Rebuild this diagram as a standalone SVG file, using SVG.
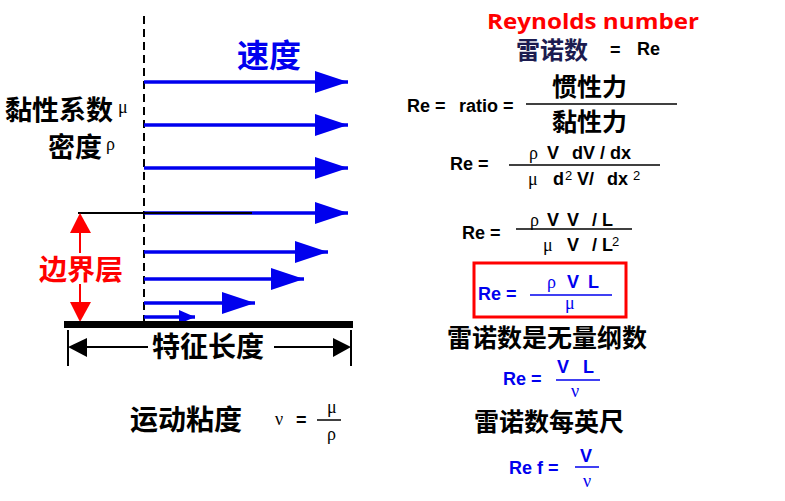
<svg xmlns="http://www.w3.org/2000/svg" width="785" height="501" viewBox="0 0 785 501">
<style>
.cjk{font-family:"Noto Sans CJK SC","Noto Sans",sans-serif;font-weight:bold}
.lat{font-family:"Liberation Sans",Arial,sans-serif;font-weight:bold;font-size:18px}
.sup{font-family:"Liberation Sans",Arial,sans-serif;font-size:13px}
.grk{font-family:"Liberation Serif","DejaVu Serif",serif;font-size:18px}
.blk{fill:#000}
.blu{fill:#0000ee}
.red{fill:#ff0000}
.fl{stroke:#000;stroke-width:1.5}
.flb{stroke:#0000ee;stroke-width:1.5}
.va{stroke:#0000ee;stroke-width:3.5;fill:none}
</style>
<defs>
<marker id="ah" markerUnits="userSpaceOnUse" markerWidth="33" markerHeight="22" refX="33" refY="11" orient="auto">
<path d="M0,0 L33,11 L0,22 z" fill="#0000ee"/>
</marker>
<marker id="ahs" markerUnits="userSpaceOnUse" markerWidth="16" markerHeight="14" refX="16" refY="7" orient="auto">
<path d="M0,0 L16,7 L0,14 z" fill="#0000ee"/>
</marker>
</defs>
<rect width="785" height="501" fill="#fff"/>

<g id="velocity-profile">
<line x1="144" y1="16" x2="144" y2="322" stroke="#000" stroke-width="2" stroke-dasharray="8,5"/>
<line class="va" x1="144" y1="82" x2="348" y2="82" marker-end="url(#ah)"/>
<line class="va" x1="144" y1="125" x2="348" y2="125" marker-end="url(#ah)"/>
<line class="va" x1="144" y1="168" x2="348" y2="168" marker-end="url(#ah)"/>
<line class="va" x1="144" y1="213" x2="348" y2="213" marker-end="url(#ah)"/>
<line class="va" x1="144" y1="252" x2="328" y2="252" marker-end="url(#ah)"/>
<line class="va" x1="144" y1="279" x2="304" y2="279" marker-end="url(#ah)"/>
<line class="va" x1="144" y1="303" x2="255" y2="303" marker-end="url(#ah)"/>
<line class="va" x1="144" y1="317" x2="195" y2="317" marker-end="url(#ahs)" stroke-width="3"/>
<line x1="78" y1="213" x2="252" y2="213" stroke="#000" stroke-width="2"/>
<text class="cjk blu" x="237" y="67" font-size="32">速度</text>
</g>

<g id="properties">
<text class="cjk blk" x="5" y="120" font-size="27">黏性系数</text>
<text class="grk blk" x="118" y="113" font-size="14">μ</text>
<text class="cjk blk" x="48" y="157" font-size="27">密度</text>
<text class="grk blk" x="106" y="150" font-size="15">ρ</text>
</g>

<g id="boundary-layer">
<line x1="80" y1="230" x2="80" y2="253" stroke="#ff0000" stroke-width="2"/>
<line x1="80" y1="284" x2="80" y2="305" stroke="#ff0000" stroke-width="2"/>
<polygon points="80,213 70,233 91,233" fill="#ff0000"/>
<polygon points="80,322 70,302 91,302" fill="#ff0000"/>
<text class="cjk red" x="39" y="280" font-size="28">边界层</text>
</g>

<g id="plate">
<rect x="64" y="321" width="289" height="7" fill="#000"/>
</g>

<g id="char-length">
<line x1="68" y1="330" x2="68" y2="366" stroke="#000" stroke-width="2"/>
<line x1="351" y1="330" x2="351" y2="366" stroke="#000" stroke-width="2"/>
<polygon points="68,347 87,338 87,357" fill="#000"/>
<polygon points="351,347 333,338 333,357" fill="#000"/>
<line x1="87" y1="347" x2="148" y2="347" stroke="#000" stroke-width="2"/>
<line x1="274" y1="347" x2="333" y2="347" stroke="#000" stroke-width="2"/>
<text class="cjk blk" x="152" y="357" font-size="28">特征长度</text>
</g>

<g id="kinematic-viscosity">
<text class="cjk blk" x="130" y="430" font-size="28">运动粘度</text>
<text class="grk blk" x="275" y="425">ν</text>
<text class="lat blk" x="296" y="426" font-weight="normal" font-size="16">=</text>
<line class="fl" x1="317" y1="420" x2="341" y2="420"/>
<text class="grk blk" x="327" y="413" font-size="16">μ</text>
<text class="grk blk" x="327" y="440" font-size="16">ρ</text>
</g>

<g id="title">
<text x="487" y="29" font-family="'Open Sans','Liberation Sans',sans-serif" font-weight="bold" font-size="22" fill="#ff0000" textLength="212" lengthAdjust="spacingAndGlyphs">Reynolds number</text>
<text class="cjk" x="516" y="59" font-size="24" fill="#1c1c50">雷诺数</text>
<text class="lat blk" x="610" y="56" font-size="16">=</text>
<text class="lat blk" x="637" y="55" font-size="15">Re</text>
</g>

<g id="eq-ratio">
<text class="lat blk" x="407" y="112">Re =</text>
<text class="lat blk" x="459" y="112">ratio =</text>
<line class="fl" x1="526" y1="104" x2="677" y2="104"/>
<text class="cjk blk" x="552" y="96" font-size="25">惯性力</text>
<text class="cjk blk" x="552" y="131" font-size="25">黏性力</text>
</g>

<g id="eq-deriv">
<text class="lat blk" x="450" y="169.5">Re =</text>
<line class="fl" x1="509" y1="165" x2="660" y2="165"/>
<text class="grk blk" x="529" y="159">ρ</text>
<text class="lat blk" x="547" y="159">V</text>
<text class="lat blk" x="572" y="159">dV / dx</text>
<text class="grk blk" x="528" y="185">μ</text>
<text class="lat blk" x="553" y="185">d</text>
<text class="sup blk" x="565" y="180">2</text>
<text class="lat blk" x="577" y="185">V/</text>
<text class="lat blk" x="607" y="185">dx</text>
<text class="sup blk" x="633" y="180">2</text>
</g>

<g id="eq-scale">
<text class="lat blk" x="462" y="238.5">Re =</text>
<line class="fl" x1="516" y1="229" x2="632" y2="229"/>
<text class="grk blk" x="530" y="225.5">ρ</text>
<text class="lat blk" x="547" y="225.5">V</text>
<text class="lat blk" x="567" y="225.5">V</text>
<text class="lat blk" x="592" y="225.5">/ L</text>
<text class="grk blk" x="543" y="251">μ</text>
<text class="lat blk" x="567" y="251">V</text>
<text class="lat blk" x="592" y="251">/ L</text>
<text class="sup blk" x="612" y="246">2</text>
</g>

<g id="eq-boxed">
<rect x="474" y="263" width="152" height="54" fill="none" stroke="#ff0000" stroke-width="3"/>
<text class="lat blu" x="478" y="299.5">Re =</text>
<line class="flb" x1="530" y1="295" x2="612" y2="295"/>
<text class="grk blu" x="547" y="288">ρ</text>
<text class="lat blu" x="567" y="288">V</text>
<text class="lat blu" x="588" y="288">L</text>
<text class="grk blu" x="565" y="309">μ</text>
</g>

<g id="dimensionless">
<text class="cjk blk" x="447" y="346.5" font-size="25">雷诺数是无量纲数</text>
</g>

<g id="eq-kinematic">
<text class="lat blu" x="503" y="384.5">Re =</text>
<line class="flb" x1="556" y1="380" x2="600" y2="380"/>
<text class="lat blu" x="557" y="372.5">V</text>
<text class="lat blu" x="583" y="372.5">L</text>
<text class="grk blu" x="571" y="397">ν</text>
</g>

<g id="per-foot">
<text class="cjk blk" x="474" y="431" font-size="25">雷诺数每英尺</text>
</g>

<g id="eq-perfoot">
<text class="lat blu" x="509" y="473.5" font-size="19">Re f =</text>
<line class="flb" x1="575" y1="467" x2="599" y2="467"/>
<text class="lat blu" x="580" y="462" font-size="21">V</text>
<text class="grk blu" x="583" y="487">ν</text>
</g>
</svg>
